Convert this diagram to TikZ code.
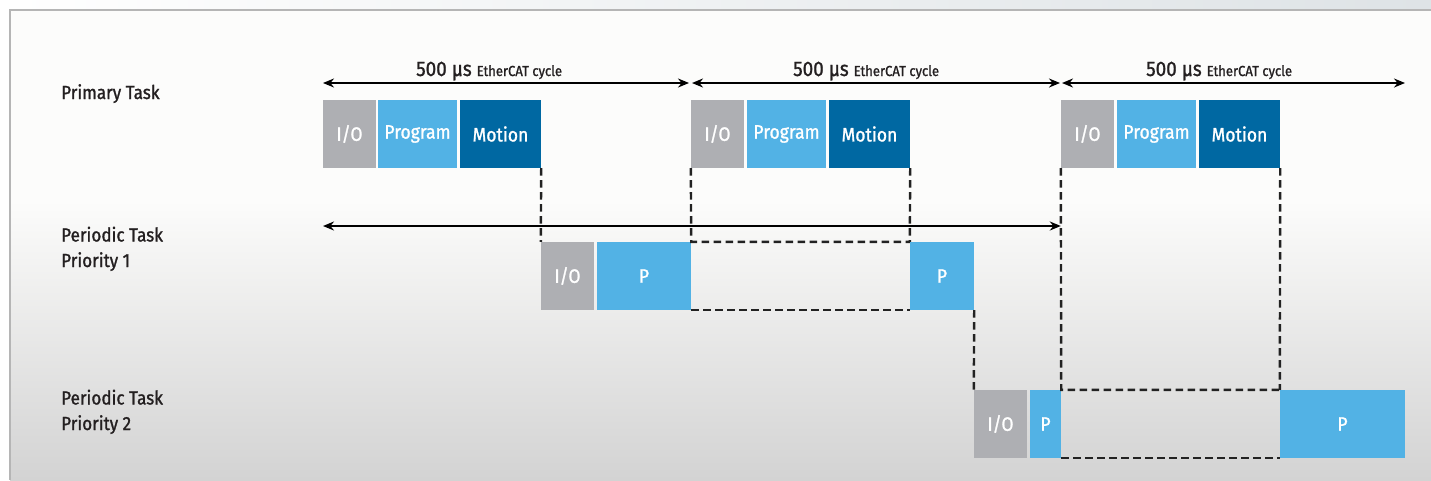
\documentclass[tikz,border=0pt]{standalone}
\usepackage{fontspec}
\setmainfont{Fira Sans}[FakeStretch=0.9, FakeBold=1.2]
\usetikzlibrary{arrows.meta}
\definecolor{iogray}{HTML}{AEAFB3}
\definecolor{pblue}{HTML}{52B2E5}
\definecolor{mblue}{HTML}{0068A2}
\definecolor{txt}{HTML}{231F20}
\definecolor{dash}{HTML}{222222}
\definecolor{frame}{HTML}{B5B5B5}
\tikzset{
  blk/.style={inner sep=0pt, minimum height=68pt, text=white, font=\fontsize{19.5pt}{22pt}\selectfont},
  iobox/.style={blk, fill=iogray, minimum width=53pt},
  pgbox/.style={blk, fill=pblue, minimum width=79pt},
  mobox/.style={blk, fill=mblue, minimum width=81pt},
  pbox/.style={blk, fill=pblue},
  rowlabel/.style={anchor=base west, inner sep=0pt, text=txt, font=\fontsize{19pt}{25.5pt}\selectfont, align=left},
  cyclelabel/.style={anchor=base west, inner sep=0pt, text=txt},
  dline/.style={draw=dash, line width=2.4pt, dash pattern=on 7.5pt off 4.5pt},
  cyc/.style={draw=black, line width=2pt, {Stealth[length=11pt,width=9pt]}-{Stealth[length=11pt,width=9pt]}}
}
\begin{document}
\begin{tikzpicture}[x=1pt, y=-1pt]
\useasboundingbox (0,0) rectangle (1431,480);
% background
\fill[white] (0,0) rectangle (1431,480);
\shade[left color=white, right color={rgb,255:red,222;green,227;blue,230}] (10,0) rectangle (1431,10);
\shade[top color={rgb,255:red,252;green,252;blue,251}, bottom color={rgb,255:red,252;green,252;blue,251}] (10,10) rectangle (1431,200);
\shade[top color={rgb,255:red,252;green,252;blue,251}, bottom color={rgb,255:red,211;green,211;blue,211}] (10,200) rectangle (1431,480);
\draw[frame, line width=1.5pt] (10,480) -- (10,10) -- (1431,10);
% row labels
\node[rowlabel] (lab1) at (61,99) {Primary Task};
\node[rowlabel] (lab2) at (61,267) {Periodic Task\\Priority 1};
\node[rowlabel] (lab3) at (61,430) {Periodic Task\\Priority 2};
% cycle arrows
\coordinate (c0) at (323,83);
\coordinate (c1a) at (689,83);
\coordinate (c1b) at (692,83);
\coordinate (c2a) at (1060,83);
\coordinate (c2b) at (1062,83);
\coordinate (c3) at (1405,83);
\draw[cyc] (c0) -- (c1a);
\draw[cyc] (c1b) -- (c2a);
\draw[cyc] (c2b) -- (c3);
\node[cyclelabel] (t1) at (416,76) {\fontsize{21pt}{24pt}\selectfont 500 µs \fontsize{14.5pt}{17pt}\selectfont EtherCAT cycle};
\node[cyclelabel] (t2) at (793,76) {\fontsize{21pt}{24pt}\selectfont 500 µs \fontsize{14.5pt}{17pt}\selectfont EtherCAT cycle};
\node[cyclelabel] (t3) at (1146,76) {\fontsize{21pt}{24pt}\selectfont 500 µs \fontsize{14.5pt}{17pt}\selectfont EtherCAT cycle};
% primary task
\node[iobox] (io1) at (349.5,134) {I/O};
\node[pgbox] (pg1) at (417.5,134) {Program};
\node[mobox] (mo1) at (500.5,134) {Motion};
\node[iobox] (io2) at (717.5,134) {I/O};
\node[pgbox] (pg2) at (786.5,134) {Program};
\node[mobox] (mo2) at (869.5,134) {Motion};
\node[iobox] (io3) at (1087.5,134) {I/O};
\node[pgbox] (pg3) at (1156.5,134) {Program};
\node[mobox] (mo3) at (1239.5,134) {Motion};
% periodic task 1
\node[iobox] (aio) at (567.5,276) {I/O};
\node[pbox, minimum width=94pt] (ap1) at (644,276) {P};
\node[pbox, minimum width=64pt] (ap2) at (942,276) {P};
% periodic task 2
\node[iobox] (bio) at (1000.5,424) {I/O};
\node[pbox, minimum width=31pt] (bp1) at (1045.5,424) {P};
\node[pbox, minimum width=125pt] (bp2) at (1342.5,424) {P};
% long arrow
\coordinate (la) at (323,226);
\draw[cyc] (la) -- (la -| io3.west);
% dashed connectors
\draw[dline] (mo1.south east) -- (aio.north west);
\draw[dline] (io2.south west) -- (ap1.north east) -- (ap2.north west);
\draw[dline] (mo2.south east) -- (ap2.north west);
\draw[dline] (ap1.south east) -- (ap2.south west);
\draw[dline] (ap2.south east) -- (bio.north west);
\draw[dline] (io3.south west) -- (bp1.north east) -- (bp2.north west);
\draw[dline] (mo3.south east) -- (bp2.north west);
\draw[dline] (bp1.south east) -- (bp2.south west);
\end{tikzpicture}
\end{document}
